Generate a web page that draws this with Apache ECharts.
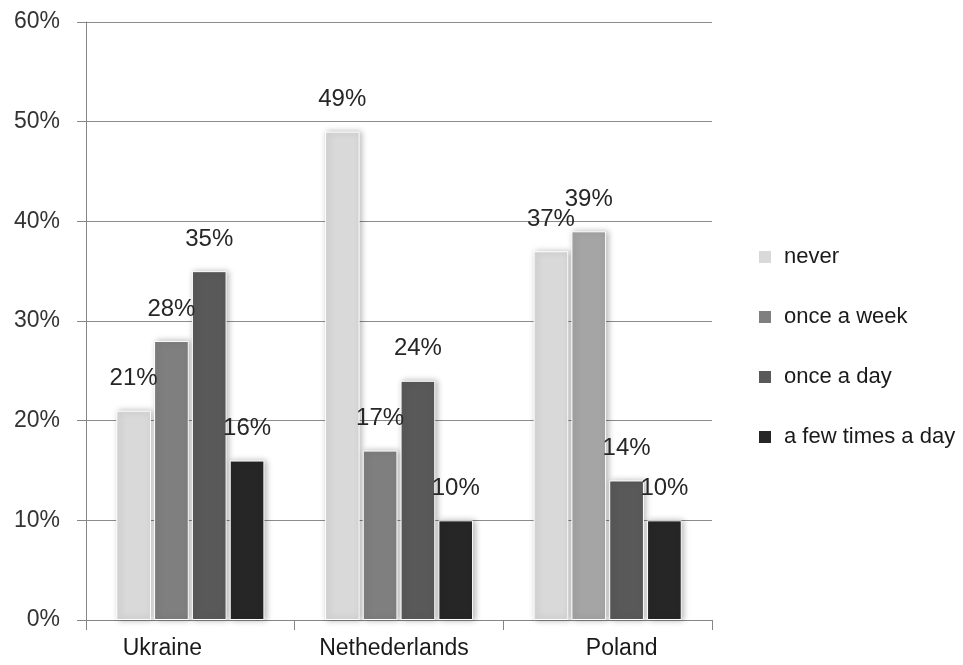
<!DOCTYPE html>
<html>
<head>
<meta charset="utf-8">
<script src="https://cdn.jsdelivr.net/npm/echarts@6/dist/echarts.min.js"></script>
<style>
  html, body { margin: 0; padding: 0; background: #fff; }
  #chart { width: 963px; height: 665px; }
</style>
</head>
<body>
<div id="chart"></div>
<script>
// Countries on the category axis
const countries = ['Ukraine', 'Nethederlands', 'Poland'];

// Share of respondents (%) per frequency group, one value per country
const seriesNames = ['never', 'once a week', 'once a day', 'a few times a day'];
const never = [21, 49, 37];
const onceAWeek = [28, 17, 39];
const onceADay = [35, 24, 14];
const fewTimesADay = [16, 10, 10];

// Value axis ticks (%)
const yMin = 0, yMax = 60, yStep = 10;

const seriesValues = [never, onceAWeek, onceADay, fewTimesADay];
const seriesColors = ['#d9d9d9', '#7f7f7f', '#595959', '#262626'];
// Poland's "once a week" bar is drawn in a lighter grey
const itemOverrides = { '1-2': '#a5a5a5' };

const FONT = "'Liberation Sans Narrow', 'Liberation Sans', sans-serif";

const chart = echarts.init(document.getElementById('chart'), null, { renderer: 'canvas' });

const series = seriesValues.map((vals, si) => ({
  name: seriesNames[si],
  type: 'bar',
  barGap: '9%',
  barCategoryGap: '29%',
  data: vals.map((v, ci) => {
    const c = itemOverrides[si + '-' + ci];
    return c ? { value: v, itemStyle: { color: c } } : v;
  }),
  itemStyle: {
    color: seriesColors[si],
    borderColor: '#ffffff',
    borderWidth: 1,
    shadowColor: 'rgba(0,0,0,0.28)',
    shadowBlur: 6,
    shadowOffsetX: 2,
    shadowOffsetY: 0
  },
  label: {
    show: true,
    position: 'top',
    distance: 20,
    formatter: '{c}%',
    fontFamily: FONT,
    fontSize: 24,
    color: '#262626'
  }
}));

chart.setOption({
  backgroundColor: '#ffffff',
  animation: false,
  grid: { left: 86, right: 251, top: 22, bottom: 45, containLabel: false },
  legend: {
    orient: 'vertical',
    left: 752,
    top: 241,
    itemWidth: 14,
    itemHeight: 14,
    itemGap: 38,
    icon: 'rect',
    data: seriesNames,
    textStyle: {
      fontFamily: FONT,
      fontSize: 22,
      color: '#1a1a1a',
      padding: [0, 0, 0, 7]
    }
  },
  xAxis: {
    type: 'category',
    data: countries.map((c, i) => ({
      value: c,
      textStyle: { padding: i === 0 ? [0, 56, 0, 0] : (i === 2 ? [0, 0, 0, 28] : [0, 10, 0, 0]) }
    })),
    axisLine: { lineStyle: { color: '#868686', width: 1 } },
    axisTick: { show: true, alignWithLabel: false, interval: 0, length: 10, lineStyle: { color: '#868686' } },
    axisLabel: {
      margin: 17,
      fontFamily: FONT,
      fontSize: 23,
      color: '#1a1a1a',
      interval: 0
    },
    splitLine: { show: false }
  },
  yAxis: {
    type: 'value',
    min: yMin,
    max: yMax,
    interval: yStep,
    axisLine: { show: true, lineStyle: { color: '#868686', width: 1 } },
    axisTick: { show: true, length: 9, lineStyle: { color: '#868686' } },
    axisLabel: {
      formatter: '{value}%',
      margin: 26,
      fontFamily: FONT,
      fontSize: 23,
      color: '#333333'
    },
    splitLine: { show: true, lineStyle: { color: '#8c8c8c', width: 1 } }
  },
  series: series
});
</script>
</body>
</html>
